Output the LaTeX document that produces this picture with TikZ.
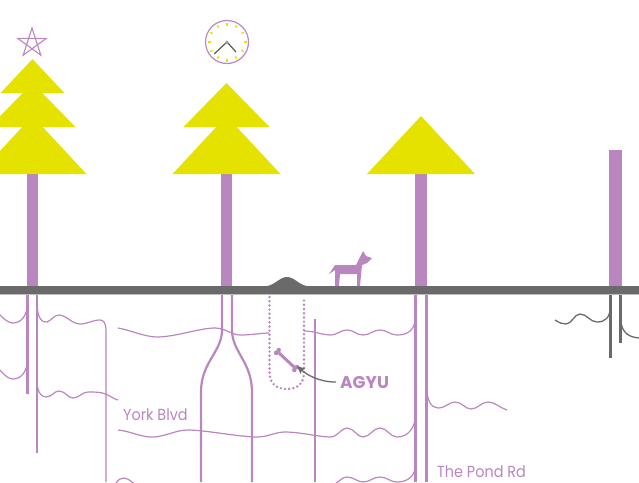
\documentclass[tikz,border=0pt]{standalone}
\usepackage{fontspec}
\setmainfont{Poppins}
\newfontfamily\streetfont[FakeStretch=0.9]{Poppins}
\usetikzlibrary{arrows.meta}
\definecolor{orchid}{RGB}{185,134,192}
\definecolor{leaf}{RGB}{230,226,0}
\definecolor{soil}{RGB}{105,106,105}

\begin{document}
\begin{tikzpicture}[x=1pt, y=-1pt,
      every node/.append style={text=orchid, inner sep=0pt}]
    \tikzstyle{root} = [orchid, line width=2.2pt]
    \tikzstyle{street} = [orchid, line width=1.2pt]
    \tikzstyle{lane} = [orchid, line width=1.4pt]
    \tikzstyle{cable} = [soil, line width=2.2pt]
    \tikzstyle{wire} = [soil, line width=1.3pt]
    \tikzstyle{tube} = [orchid, line width=2.7pt, line cap=round, dash pattern=on 0pt off 4.2pt]
    \tikzstyle{tier} = [fill=leaf]
    \tikzstyle{trunk} = [fill=orchid]
    \tikzstyle{hand} = [soil!85!black, line width=1.2pt]
    \tikzstyle{street name} = [font=\streetfont\fontsize{16}{18}\selectfont, anchor=base west]
    \tikzstyle{pointer} = [soil, line width=1.3pt, -{Stealth[length=8pt,width=7pt,inset=1.5pt]}]
    \clip (0,0) rectangle (639,482);

    % roots and streets below the ground
    \draw[root] (27.5,294) -- (27.5,394);
    \draw[root] (37,294) -- (37,453);
    \draw[street] (0,315) .. controls (5,320) and (9,323) .. (13,323) .. controls (21,323) and (27.5,316) .. (27.5,302);
    \draw[street] (0,370) .. controls (5,376) and (9,379) .. (13,379) .. controls (21,379) and (27.5,372) .. (27.5,358);
    \draw[street] (37,302) .. controls (37,318) and (42,323) .. (47,322) .. controls (52,320) and (54,315) .. (59,315)
      .. controls (66,315) and (72,324) .. (80,324) .. controls (88,324) and (92,320) .. (100,320)
      .. controls (104,320) and (106,324) .. (106,330) -- (106,482);
    \draw[street] (37,380) .. controls (37,392) and (41,397) .. (46,397) .. controls (52,397) and (54,391) .. (59,391)
      .. controls (65,391) and (68,398) .. (73,398) .. controls (79,398) and (82,392) .. (88,392)
      .. controls (96,392) and (100,392) .. (106,394) .. controls (110,396) and (114,399) .. (118,400);

    \draw[root] (222,294) -- (222,330) .. controls (222,352) and (201,362) .. (201,392) -- (201,482);
    \draw[root] (232,294) -- (232,330) .. controls (232,352) and (252,362) .. (252,392) -- (252,482);
    \draw[lane] (315,319) -- (315,482);
    \draw[root] (415.5,294) -- (415.5,482);
    \draw[root] (426.5,294) -- (426.5,482);

    \draw[street] (118,328) .. controls (130,330) and (145,337) .. (157,337) .. controls (175,337) and (200,328) .. (215,328)
      .. controls (225,328) and (232,335) .. (240,335) .. controls (252,335) and (262,333) .. (269,333);
    \draw[street] (304,331) .. controls (315,331) and (322,335) .. (330,335) .. controls (338,335) and (340,330) .. (347,330)
      .. controls (354,330) and (356,335) .. (363,335) .. controls (370,335) and (373,330) .. (380,330)
      .. controls (387,330) and (390,335) .. (397,335) .. controls (408,335) and (415.5,330) .. (415.5,316);
    \draw[street] (118,430) .. controls (130,431) and (140,437) .. (152,437) .. controls (165,437) and (175,430) .. (188,430)
      .. controls (205,430) and (240,437) .. (257,437) .. controls (268,437) and (275,432) .. (285,432)
      .. controls (300,432) and (320,437) .. (330,437) .. controls (338,437) and (341,428) .. (347,428)
      .. controls (354,428) and (357,437) .. (363,437) .. controls (370,437) and (373,428) .. (380,428)
      .. controls (387,428) and (390,437) .. (397,437) .. controls (408,437) and (415.5,428) .. (415.5,414);
    \draw[street] (116,483) .. controls (119,479) and (121,478) .. (124,478) .. controls (130,478) and (134,486) .. (142,488)
      -- (326,488) .. controls (336,486) and (341,477) .. (347,477)
      .. controls (354,477) and (357,482) .. (363,482) .. controls (370,482) and (373,477) .. (380,477)
      .. controls (387,477) and (390,482) .. (397,482) .. controls (408,482) and (415.5,476) .. (415.5,464);
    \draw[street] (426.5,385) .. controls (426.5,400) and (431,408) .. (438,408) .. controls (446,408) and (449,402) .. (455,402)
      .. controls (462,402) and (465,409) .. (471,409) .. controls (478,409) and (481,402) .. (488,402)
      .. controls (495,402) and (500,408) .. (507,410);

    \draw[cable] (610.5,294) -- (610.5,358);
    \draw[cable] (620.5,294) -- (620.5,343);
    \draw[wire] (555,320) .. controls (560,323) and (562,324) .. (566,324) .. controls (572,324) and (574,314) .. (580,314)
      .. controls (587,314) and (590,322) .. (597,322) .. controls (605,322) and (610.5,318) .. (610.5,305);
    \draw[wire] (620.5,318) .. controls (621,330) and (626,337) .. (639,338);

    % the buried bone
    \draw[tube] (269.5,297) -- (269.5,372) .. controls (269.5,385) and (278,389) .. (287,389)
      .. controls (296,389) and (304,385) .. (304,372) -- (304,297);
    \begin{scope}[shift={(286.5,360)}, rotate=-43]
      \draw[orchid, line width=3pt] (-11,0) -- (11,0);
      \foreach \bx in {-12.5,12.5}
        \foreach \by in {-1.9,1.9}
          \fill[orchid] (\bx,\by) circle (2.3);
    \end{scope}
    \coordinate (bonetip) at (297,366);

    % ground
    \fill[soil] (0,286) rectangle (639,294);
    \fill[soil!45] (0,294) rectangle (639,295.2);
    \fill[soil] (264,286.5) .. controls (275,286) and (279,277) .. (287,277)
      .. controls (295,277) and (299,286) .. (310,286.5) -- cycle;

    % trees
    \fill[trunk] (27,170) rectangle (38,286);
    \fill[trunk] (221,170) rectangle (232,286);
    \fill[trunk] (415,170) rectangle (427,286);
    \fill[trunk] (609,150) rectangle (622,286);
    \foreach \cx in {32.5,226.5,421}
      \fill[tier] (\cx-54,174) -- (\cx,116) -- (\cx+54,174) -- cycle;
    \foreach \cx in {32.5,226.5}
      \fill[tier] (\cx-43,127) -- (\cx,83) -- (\cx+43,127) -- cycle;
    \fill[tier] (0.5,93) -- (32.5,59) -- (64.5,93) -- cycle;

    % dog
    \fill[orchid] (329,274) -- (335,265) -- (356,265) -- (361,255) -- (363,251) -- (366,256) -- (372,258)
      -- (367,263) -- (362,265) -- (361,275) -- (360,286) -- (357,286) -- (357,274) -- (340,274)
      -- (339,286) -- (335,286) -- (335,270) -- cycle;

    % star
    \begin{scope}[shift={(32,43)}]
      \draw[orchid, line width=1.1pt] (-90:15) -- (54:15) -- (198:15) -- (-18:15) -- (126:15) -- cycle;
    \end{scope}

    % clock
    \begin{scope}[shift={(227,42)}]
      \draw[orchid, line width=1.2pt] (0,0) circle (21.5);
      \foreach \a in {0,30,...,330}
        \draw[leaf, line width=1.4pt] (\a:16.5) -- (\a:19.5);
      \draw[hand] (137:17.5) -- (0,0) -- (48:13.5);
      \fill[orchid] (0,0) circle (1.6);
    \end{scope}

    \node[street name] (york) at (123,420) {York Blvd};
    \node[street name] (pond) at (437,477) {The Pond Rd};
    \node[font=\bfseries\fontsize{17}{20}\selectfont, anchor=base west] (agyu) at (340,388) {AGYU};
    \draw[pointer] ([xshift=-4pt]agyu.west) .. controls +(-18,0) and +(9,8) .. (bonetip);
\end{tikzpicture}
\end{document}
